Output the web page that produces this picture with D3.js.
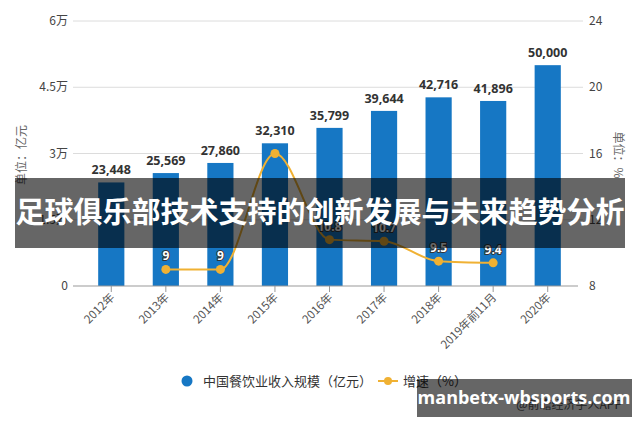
<!DOCTYPE html>
<html>
<head>
<meta charset="utf-8">
<script src="https://cdn.jsdelivr.net/npm/d3@7"></script>
<style>
  body { margin: 0; background: #fff; }
  svg { display: block; font-family: "Noto Sans CJK SC", "Microsoft YaHei", sans-serif; }
</style>
</head>
<body>
<svg id="chart" width="640" height="426"></svg>
<script>
const years = ["2012年", "2013年", "2014年", "2015年", "2016年", "2017年", "2018年", "2019年前11月", "2020年"];
const revenue = [23448, 25569, 27860, 32310, 35799, 39644, 42716, 41896, 50000];
const growth = [null, 9, 9, 16, 10.8, 10.7, 9.5, 9.4, null];
const growthLabels = ["", "9", "9", "", "10.8", "10.7", "9.5", "9.4", ""];
const leftTicks = [0, 15000, 30000, 45000, 60000];
const leftTickLabels = ["0", "1.5万", "3万", "4.5万", "6万"];
const rightTicks = [8, 12, 16, 20, 24];

const svg = d3.select("#chart");
const blue = "#1677c4";
const gold = "#f0b133";

const x = d3.scaleBand().domain(years).range([84, 575]).paddingInner(0.52).paddingOuter(0.26);
const xc = (d) => x(d) + x.bandwidth() / 2;
const yL = d3.scaleLinear().domain([0, 60000]).range([286, 21]);
const yR = d3.scaleLinear().domain([8, 24]).range([286, 21]);

// grid
svg.append("g")
  .selectAll("line")
  .data(leftTicks.slice(1))
  .join("line")
  .attr("x1", 73).attr("x2", 583)
  .attr("y1", (d) => yL(d)).attr("y2", (d) => yL(d))
  .attr("stroke", "#dcdcdc");

// left axis labels
svg.append("g")
  .selectAll("text")
  .data(leftTicks)
  .join("text")
  .attr("x", 68)
  .attr("y", (d) => yL(d) + 4)
  .attr("text-anchor", "end")
  .attr("font-size", 12)
  .attr("fill", "#444")
  .text((d, i) => leftTickLabels[i]);

// right axis labels
svg.append("g")
  .selectAll("text")
  .data(rightTicks)
  .join("text")
  .attr("x", 589)
  .attr("y", (d) => yR(d) + 4)
  .attr("font-size", 12)
  .attr("fill", "#444")
  .text((d) => d);

// bars
svg.append("g")
  .selectAll("rect")
  .data(years)
  .join("rect")
  .attr("x", (d) => x(d))
  .attr("width", x.bandwidth())
  .attr("y", (d, i) => yL(revenue[i]))
  .attr("height", (d, i) => yL(0) - yL(revenue[i]))
  .attr("fill", blue);

svg.append("g")
  .selectAll("text")
  .data(years)
  .join("text")
  .attr("x", (d) => xc(d))
  .attr("y", (d, i) => yL(revenue[i]) - 8)
  .attr("text-anchor", "middle")
  .attr("font-size", 12.5)
  .attr("font-weight", 700)
  .attr("fill", "#333")
  .attr("font-family", "Open Sans, sans-serif")
  .text((d, i) => d3.format(",")(revenue[i]));

// x baseline + ticks
svg.append("line")
  .attr("x1", 73).attr("x2", 578)
  .attr("y1", 286).attr("y2", 286)
  .attr("stroke", "#999");

svg.append("g")
  .selectAll("line")
  .data(years)
  .join("line")
  .attr("x1", (d) => xc(d)).attr("x2", (d) => xc(d))
  .attr("y1", 286).attr("y2", 292)
  .attr("stroke", "#999");

svg.append("g")
  .selectAll("text")
  .data(years)
  .join("text")
  .attr("transform", (d) => `translate(${xc(d) + 4},${298}) rotate(-45)`)
  .attr("text-anchor", "end")
  .attr("font-size", 11.5)
  .attr("fill", "#555")
  .text((d) => d);

// growth line
const pts = years.map((d, i) => ({ year: d, v: growth[i], label: growthLabels[i] })).filter((d) => d.v !== null);
svg.append("path")
  .datum(pts)
  .attr("fill", "none")
  .attr("stroke", gold)
  .attr("stroke-width", 2)
  .attr("d", d3.line().x((d) => xc(d.year)).y((d) => yR(d.v)).curve(d3.curveMonotoneX));

svg.append("g")
  .selectAll("circle")
  .data(pts)
  .join("circle")
  .attr("cx", (d) => xc(d.year))
  .attr("cy", (d) => yR(d.v))
  .attr("r", 4.5)
  .attr("fill", gold);

svg.append("g")
  .selectAll("text")
  .data(pts)
  .join("text")
  .attr("x", (d) => xc(d.year))
  .attr("y", (d) => yR(d.v) - 9)
  .attr("text-anchor", "middle")
  .attr("font-size", 12)
  .attr("font-weight", 700)
  .attr("fill", "#fff")
  .attr("stroke", "#333")
  .attr("stroke-width", 2)
  .attr("paint-order", "stroke")
  .attr("font-family", "Open Sans, sans-serif")
  .text((d) => d.label);

// axis titles
svg.append("text")
  .attr("transform", "translate(26,155) rotate(-90)")
  .attr("text-anchor", "middle")
  .attr("font-size", 12)
  .attr("fill", "#666")
  .text("单位：亿元");

svg.append("text")
  .attr("transform", "translate(614,155) rotate(90)")
  .attr("text-anchor", "middle")
  .attr("font-size", 12)
  .attr("fill", "#666")
  .text("单位：%");

// legend
const legend = svg.append("g").attr("transform", "translate(0,381)");
legend.append("circle").attr("cx", 187).attr("cy", 0).attr("r", 5.5).attr("fill", blue);
legend.append("text").attr("x", 203).attr("y", 4.5).attr("font-size", 13).attr("fill", "#333")
  .text("中国餐饮业收入规模（亿元）");
legend.append("line").attr("x1", 378).attr("x2", 398).attr("y1", 0).attr("y2", 0)
  .attr("stroke", gold).attr("stroke-width", 2);
legend.append("circle").attr("cx", 388).attr("cy", 0).attr("r", 4).attr("fill", gold);
legend.append("text").attr("x", 403).attr("y", 4.5).attr("font-size", 13).attr("fill", "#333")
  .text("增速（%）");

// source note under the overlay
svg.append("text").attr("x", 622).attr("y", 409).attr("text-anchor", "end")
  .attr("font-size", 12).attr("fill", "#555").text("@前瞻经济学人APP");

// overlay banner
svg.append("rect").attr("x", 15).attr("y", 178).attr("width", 610).attr("height", 70)
  .attr("fill", "rgba(0,0,0,0.6)");
svg.append("text").attr("x", 320).attr("y", 223).attr("text-anchor", "middle")
  .attr("font-size", 29).attr("font-weight", 700).attr("fill", "#fff")
  .text("足球俱乐部技术支持的创新发展与未来趋势分析");

svg.append("rect").attr("x", 417).attr("y", 379).attr("width", 215).attr("height", 38)
  .attr("fill", "rgba(0,0,0,0.6)");
svg.append("text").attr("x", 524).attr("y", 404).attr("text-anchor", "middle")
  .attr("font-size", 18).attr("font-weight", 700).attr("fill", "#fff")
  .attr("font-family", "Open Sans, sans-serif")
  .text("manbetx-wbsports.com");
</script>
</body>
</html>
